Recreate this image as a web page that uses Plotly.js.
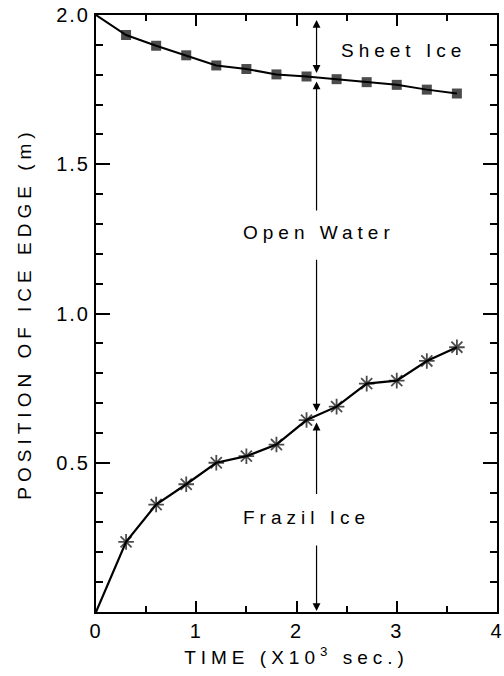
<!DOCTYPE html>
<html>
<head>
<meta charset="utf-8">
<script src="https://cdn.plot.ly/plotly-3.0.1.min.js"></script>
<style>
  html, body { margin: 0; padding: 0; background: #fff; }
  #chart { width: 504px; height: 676px; }
  .annotation-text, .xtitle, .ytitle { letter-spacing: 5px; }
  .xtick text, .ytick text { letter-spacing: 2px; }
</style>
</head>
<body>
<div id="chart"></div>
<script>
// ---- data ----
const measureTime = [0.3, 0.6, 0.9, 1.2, 1.5, 1.8, 2.1, 2.4, 2.7, 3.0, 3.3, 3.6];   // x10^3 s
const sheetEdge   = [1.933, 1.897, 1.865, 1.831, 1.819, 1.801, 1.794, 1.785, 1.775, 1.766, 1.750, 1.737];
const frazilEdge  = [0.235, 0.360, 0.428, 0.500, 0.522, 0.561, 0.643, 0.688, 0.765, 0.775, 0.841, 0.887];
const sheetStart  = 2.0;
const frazilStart = 0.0;

const xTickVals = [0, 1, 2, 3, 4];
const xTickText = ['0', '1', '2', '3', '4'];
const yTickVals = [0.5, 1.0, 1.5, 2.0];
const yTickText = ['0.5', '1.0', '1.5', '2.0'];

const arrowTime = 2.2;      // time of the vertical region markers
const regionLabels = ['Sheet Ice', 'Open Water', 'Frazil Ice'];

// ---- helpers ----
const timeAll = [0].concat(measureTime);
const sheetAll = [sheetStart].concat(sheetEdge);
const frazilAll = [frazilStart].concat(frazilEdge);
function interp(xs, ys, x) {
  for (let i = 0; i < xs.length - 1; i++) {
    if (x >= xs[i] && x <= xs[i + 1]) {
      const f = (x - xs[i]) / (xs[i + 1] - xs[i]);
      return ys[i] + f * (ys[i + 1] - ys[i]);
    }
  }
  return ys[ys.length - 1];
}
const sheetAt = interp(timeAll, sheetAll, arrowTime);
const frazilAt = interp(timeAll, frazilAll, arrowTime);

const FONT = '"Liberation Sans", Arial, Helvetica, sans-serif';
const markerSizes = (n, s) => [0].concat(new Array(n).fill(s));

const traces = [
  {
    x: timeAll, y: sheetAll, mode: 'lines+markers', name: 'Sheet Ice',
    line: { color: '#000', width: 2 },
    marker: { symbol: 'square', size: markerSizes(measureTime.length, 10), color: '#000', line: { width: 0 } },
    showlegend: false, hoverinfo: 'x+y'
  },
  {
    x: timeAll, y: frazilAll, mode: 'lines+markers', name: 'Frazil Ice',
    line: { color: '#000', width: 2.2 },
    marker: { symbol: 'asterisk-open', size: markerSizes(measureTime.length, 13),
              color: '#000', line: { color: '#000', width: 1.8 } },
    showlegend: false, hoverinfo: 'x+y'
  },
  // invisible trace carrying the mirrored top / right tick axes
  { x: [0], y: [0], xaxis: 'x2', yaxis: 'y2', mode: 'markers', marker: { size: 0, opacity: 0 }, showlegend: false, hoverinfo: 'skip' }
];

function vArrow(headY, tailY, both, standoff, startstandoff) {
  return {
    x: arrowTime, y: headY, ax: arrowTime, ay: tailY,
    xref: 'x', yref: 'y', axref: 'x', ayref: 'y',
    text: '', showarrow: true,
    arrowhead: 2, arrowsize: 1.3, arrowwidth: 1.2, arrowcolor: '#000',
    startarrowhead: 2, startarrowsize: 1.3,
    arrowside: both ? 'end+start' : 'end',
    standoff: standoff || 0, startstandoff: startstandoff || 0
  };
}
function label(text, x, y) {
  return { x: x, y: y, xref: 'x', yref: 'y', text: text, showarrow: false,
           xanchor: 'center', yanchor: 'middle',
           font: { family: FONT, size: 19, color: '#000' } };
}

const annotations = [
  vArrow(2.0, sheetAt, true, 5, 3),
  vArrow(sheetAt, 1.34, false, 4, 0),
  vArrow(frazilAt, 1.185, false, 4, 0),
  vArrow(frazilAt, 0.39, false, 7, 0),
  vArrow(0, 0.228, false, 1, 0),
  label(regionLabels[0], 3.07, 1.88),
  label(regionLabels[1], 2.22, 1.27),
  label(regionLabels[2], 2.1, 0.315)
];

const axisCommon = {
  showline: true, linecolor: '#000', linewidth: 2, mirror: true,
  ticks: 'inside', tickcolor: '#000', tickwidth: 2,
  showgrid: false, zeroline: false, ticklabeloverflow: 'allow',
  tickfont: { family: FONT, size: 20, color: '#000' }
};
const xMinor = { dtick: 0.5, tick0: 0, ticks: 'inside', ticklen: 6, tickwidth: 2, tickcolor: '#000', showgrid: false };
const yMinor = { dtick: 0.1, tick0: 0, ticks: 'inside', ticklen: 7, tickwidth: 2, tickcolor: '#000', showgrid: false };

const layout = {
  width: 504, height: 676,
  margin: { l: 96, r: 7, t: 15, b: 64 },
  paper_bgcolor: '#fff', plot_bgcolor: '#fff',
  font: { family: FONT, color: '#000' },
  showlegend: false,
  xaxis: Object.assign({}, axisCommon, {
    range: [0, 4], tickmode: 'array', tickvals: xTickVals, ticktext: xTickText,
    ticklen: 11, minor: xMinor,
    title: { text: 'TIME (X10<sup>3</sup> sec.)', font: { family: FONT, size: 19, color: '#000' }, standoff: 10 }
  }),
  yaxis: Object.assign({}, axisCommon, {
    range: [0, 2], tickmode: 'array', tickvals: yTickVals, ticktext: yTickText,
    ticklen: 14, minor: yMinor,
    title: { text: 'POSITION OF ICE EDGE (m)', font: { family: FONT, size: 19, color: '#000' }, standoff: 20 }
  }),
  xaxis2: {
    overlaying: 'x', side: 'top', anchor: 'y2', range: [0, 4],
    tickmode: 'array', tickvals: xTickVals, showticklabels: false,
    ticks: 'inside', ticklen: 11, tickwidth: 2, tickcolor: '#000', minor: xMinor,
    showline: false, showgrid: false, zeroline: false
  },
  yaxis2: {
    overlaying: 'y', side: 'right', anchor: 'x2', range: [0, 2],
    tickmode: 'array', tickvals: yTickVals, showticklabels: false,
    ticks: 'inside', ticklen: 14, tickwidth: 2, tickcolor: '#000', minor: yMinor,
    showline: false, showgrid: false, zeroline: false
  },
  annotations: annotations
};

Plotly.newPlot('chart', traces, layout, { displayModeBar: false, staticPlot: true });
</script>
</body>
</html>
